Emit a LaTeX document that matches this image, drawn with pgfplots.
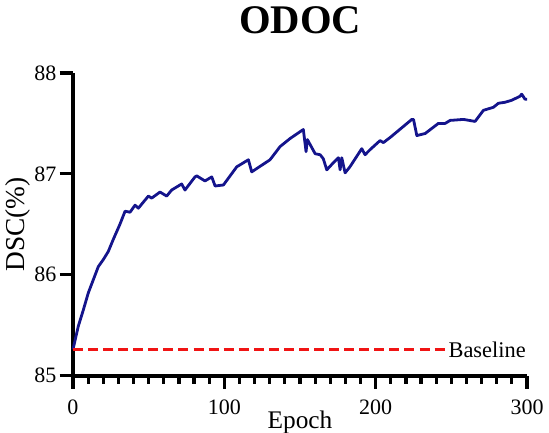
\documentclass[border=0pt]{standalone}
\usepackage{fontspec}
\setmainfont{Liberation Serif}
\usepackage{pgfplots}
\pgfplotsset{compat=1.18}
\definecolor{navy}{RGB}{20,20,140}
\definecolor{basered}{RGB}{240,20,20}

\begin{document}
\begin{tikzpicture}
\begin{axis}[
  name=ax,
  scale only axis,
  width=340.5pt, height=227pt,
  xmin=0, xmax=300, ymin=85, ymax=88,
  axis x line*=bottom, axis y line*=left,
  axis line style={line width=2.8pt},
  every outer x axis line/.append style={line width=2.8pt},
  every outer y axis line/.append style={line width=2.8pt},
  xtick={0,100,200,300}, ytick={85,86,87,88},
  minor x tick num=9,
  tick align=outside,
  major tick length=10pt, minor tick length=6pt,
  every tick/.style={black,line width=2.4pt},
  /pgf/number format/assume math mode=true,
  tick label style={font=\fontsize{16.5}{16.5}\selectfont},
  yticklabel style={xshift=1pt},
  xticklabel style={yshift=-4.5pt},
  xlabel={Epoch}, ylabel={DSC(\%)},
  xlabel style={font=\fontsize{19}{19}\selectfont, yshift=9.5pt},
  ylabel style={font=\fontsize{20.5}{20.5}\selectfont, yshift=-4pt},
  title={ODOC},
  title style={font=\fontsize{30.5}{30.5}\bfseries, yshift=20pt},
  clip=false,
]
  \addplot[navy, line width=2.1pt, line join=round] coordinates {
    (0,85.26) (3.5,85.49) (6.8,85.65) (10.1,85.82) (13.4,85.95)
    (16.7,86.08) (20,86.15) (23.3,86.23) (26.6,86.35) (31,86.5)
    (34.4,86.63) (37.7,86.62) (41,86.69) (43.2,86.66) (49.8,86.78)
    (52,86.76) (57.5,86.82) (61.9,86.78) (65.2,86.84) (71.8,86.9)
    (74,86.84) (80.6,86.97) (81.8,86.98) (87.2,86.93) (91.7,86.97)
    (93.9,86.88) (99.4,86.89) (108.2,87.07) (115.9,87.14) (118.1,87.02)
    (130.2,87.14) (136.8,87.27) (143.4,87.35) (152.2,87.44) (154,87.22)
    (154.9,87.34) (160,87.2) (163.3,87.19) (165.4,87.15) (167.7,87.04)
    (172,87.11) (175.4,87.16) (176.5,87.04) (177.6,87.16) (179.8,87.01)
    (183,87.07) (190.8,87.25) (193,87.19) (196.3,87.24) (202.9,87.33)
    (205.1,87.31) (209.5,87.36) (218.3,87.47) (223.9,87.54) (225,87.54)
    (227.2,87.38) (232.7,87.40) (241.4,87.50) (245.9,87.50) (249.2,87.53)
    (258,87.54) (265.7,87.52) (271.2,87.63) (277.8,87.66) (281.1,87.70)
    (285.5,87.71) (290,87.73) (295.4,87.77) (296.5,87.79) (298.7,87.74)
    (300,87.74)
  };
  \addplot[basered, line width=2pt, dash pattern=on 7.5pt off 3.8pt] coordinates {(0,85.26) (246,85.26)};
  \node[anchor=west, font=\fontsize{16.8}{16.8}\selectfont, inner sep=0pt] at (axis cs:248,85.26) {Baseline};
\end{axis}
\pgfresetboundingbox
\path ([xshift=-54.75pt,yshift=-42.75pt]ax.south west) rectangle ([xshift=16.5pt,yshift=54.75pt]ax.north east);
\end{tikzpicture}
\end{document}
